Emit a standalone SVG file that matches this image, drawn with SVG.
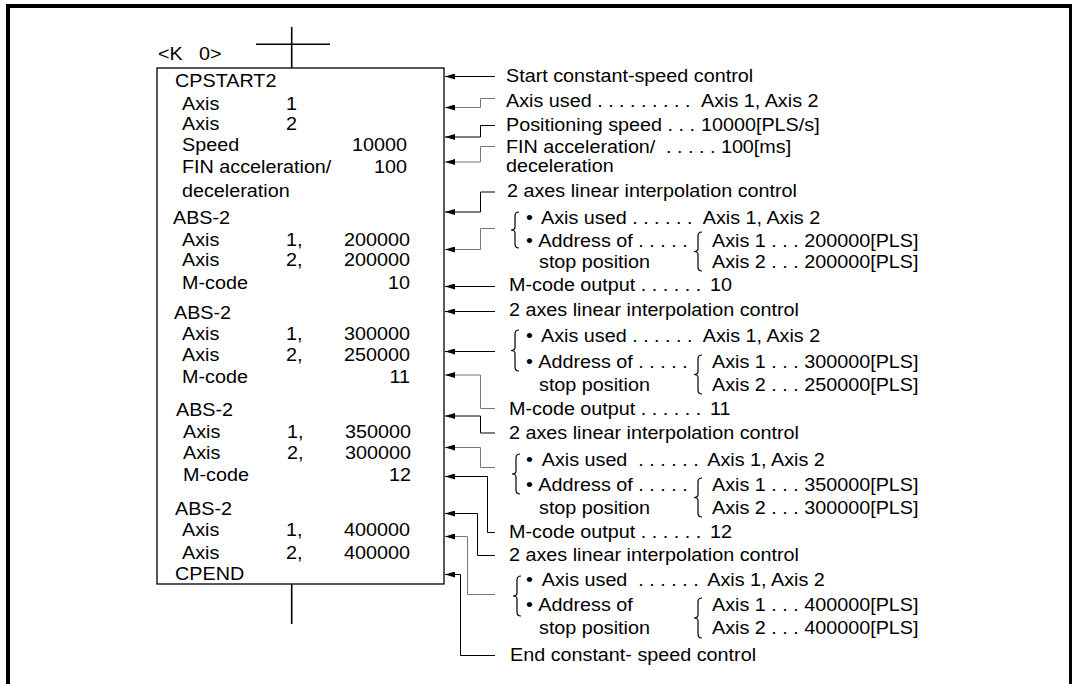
<svg xmlns="http://www.w3.org/2000/svg" width="1072" height="684" viewBox="0 0 1072 684">
<style>
text { font-family: "Liberation Sans", Arial, sans-serif; font-size: 17.5px; fill: #000; }
.e { text-anchor: end; }
.ln { fill: none; stroke: #000; stroke-width: 1; }
.gr { stroke: #777; }
.br { fill: none; stroke: #000; stroke-width: 1.2; }
.lad { fill: none; stroke: #000; stroke-width: 1.6; }
</style>
<defs>
<marker id="arr" markerUnits="userSpaceOnUse" markerWidth="10" markerHeight="6" viewBox="0 0 10 6" refX="10" refY="3" orient="auto">
<path d="M0,0 L10,3 L0,6 z" fill="#000"/>
</marker>
</defs>
<rect width="1072" height="684" fill="#fff"/>
<path d="M8,684 V6 H1071 V684" fill="none" stroke="#000" stroke-width="4"/>

<g id="ladder">
<path class="lad" d="M291.7,27 V68 M256,44.3 H330 M291.7,584 V624"/>
<text transform="translate(158 59.5) scale(1.13 1)">&lt;K</text>
<text transform="translate(199 59.5) scale(1.13 1)">0&gt;</text>
</g>

<g id="box">
<rect x="157" y="68" width="287" height="516" fill="#fff" stroke="#000" stroke-width="1.3"/>
<text transform="translate(175 87) scale(1.13 1)">CPSTART2</text>
<text transform="translate(182 109.5) scale(1.13 1)">Axis</text>
<text transform="translate(286 109.5) scale(1.13 1)">1</text>
<text transform="translate(182 130) scale(1.13 1)">Axis</text>
<text transform="translate(286 130) scale(1.13 1)">2</text>
<text transform="translate(182 150.5) scale(1.13 1)">Speed</text>
<text class="e" transform="translate(407 150.5) scale(1.13 1)">10000</text>
<text transform="translate(182 173) scale(1.13 1)">FIN acceleration/</text>
<text class="e" transform="translate(407 173) scale(1.13 1)">100</text>
<text transform="translate(182 196.5) scale(1.13 1)">deceleration</text>

<text transform="translate(173 224) scale(1.13 1)">ABS-2</text>
<text transform="translate(182 245.5) scale(1.13 1)">Axis</text>
<text transform="translate(286 245.5) scale(1.13 1)">1,</text>
<text class="e" transform="translate(410 245.5) scale(1.13 1)">200000</text>
<text transform="translate(182 266) scale(1.13 1)">Axis</text>
<text transform="translate(286 266) scale(1.13 1)">2,</text>
<text class="e" transform="translate(410 266) scale(1.13 1)">200000</text>
<text transform="translate(182 288.5) scale(1.13 1)">M-code</text>
<text class="e" transform="translate(410 288.5) scale(1.13 1)">10</text>

<text transform="translate(174 318.5) scale(1.13 1)">ABS-2</text>
<text transform="translate(182 340) scale(1.13 1)">Axis</text>
<text transform="translate(286 340) scale(1.13 1)">1,</text>
<text class="e" transform="translate(410 340) scale(1.13 1)">300000</text>
<text transform="translate(182 360.5) scale(1.13 1)">Axis</text>
<text transform="translate(286 360.5) scale(1.13 1)">2,</text>
<text class="e" transform="translate(410 360.5) scale(1.13 1)">250000</text>
<text transform="translate(182 383) scale(1.13 1)">M-code</text>
<text class="e" transform="translate(410 383) scale(1.13 1)">11</text>

<text transform="translate(176 416) scale(1.13 1)">ABS-2</text>
<text transform="translate(183 437.5) scale(1.13 1)">Axis</text>
<text transform="translate(287 437.5) scale(1.13 1)">1,</text>
<text class="e" transform="translate(411 437.5) scale(1.13 1)">350000</text>
<text transform="translate(183 458.5) scale(1.13 1)">Axis</text>
<text transform="translate(287 458.5) scale(1.13 1)">2,</text>
<text class="e" transform="translate(411 458.5) scale(1.13 1)">300000</text>
<text transform="translate(183 481) scale(1.13 1)">M-code</text>
<text class="e" transform="translate(411 481) scale(1.13 1)">12</text>

<text transform="translate(175 515) scale(1.13 1)">ABS-2</text>
<text transform="translate(182 536) scale(1.13 1)">Axis</text>
<text transform="translate(286 536) scale(1.13 1)">1,</text>
<text class="e" transform="translate(410 536) scale(1.13 1)">400000</text>
<text transform="translate(182 559) scale(1.13 1)">Axis</text>
<text transform="translate(286 559) scale(1.13 1)">2,</text>
<text class="e" transform="translate(410 559) scale(1.13 1)">400000</text>
<text transform="translate(175 580) scale(1.13 1)">CPEND</text>
</g>

<g id="connectors">
<path class="ln" marker-end="url(#arr)" d="M495,76.5 H445"/>
<path class="ln gr" marker-end="url(#arr)" d="M495,98.5 H480.5 V107.5 H445"/>
<path class="ln" marker-end="url(#arr)" d="M495,125.5 H480.5 V137 H445"/>
<path class="ln gr" marker-end="url(#arr)" d="M495,146.5 H480.5 V162 H445"/>
<path class="ln" marker-end="url(#arr)" d="M495,192 H480.5 V212 H445"/>
<path class="ln gr" marker-end="url(#arr)" d="M495,228.5 H480.5 V249.5 H445"/>
<path class="ln" marker-end="url(#arr)" d="M495,286.5 H445"/>
<path class="ln" marker-end="url(#arr)" d="M495,311.5 H445"/>
<path class="ln" marker-end="url(#arr)" d="M495,351.5 H445"/>
<path class="ln gr" marker-end="url(#arr)" d="M495,408.5 H480.5 V375 H445"/>
<path class="ln" marker-end="url(#arr)" d="M495,433 H480.5 V416 H445"/>
<path class="ln gr" marker-end="url(#arr)" d="M495,467.5 H480.5 V447.5 H445"/>
<path class="ln" marker-end="url(#arr)" d="M495,532.5 H487.5 V476.5 H445"/>
<path class="ln" marker-end="url(#arr)" d="M495,555.5 H477.5 V513.5 H445"/>
<path class="ln gr" marker-end="url(#arr)" d="M495,594.5 H467.5 V536.5 H445"/>
<path class="ln" marker-end="url(#arr)" d="M495,655.5 H460.5 V574.5 H445"/>
</g>

<g id="label-start">
<text transform="translate(506 81.5) scale(1.13 1)">Start constant-speed control</text>
</g>
<g id="label-axis-used">
<text transform="translate(506 106.5) scale(1.13 1)">Axis used . . . . . . . . .</text>
<text transform="translate(701 106.5) scale(1.13 1)">Axis 1, Axis 2</text>
</g>
<g id="label-speed">
<text transform="translate(506 131) scale(1.13 1)">Positioning speed . . .</text>
<text transform="translate(701 131) scale(1.13 1)">10000[PLS/s]</text>
</g>
<g id="label-fin">
<text transform="translate(506 153) scale(1.13 1)">FIN acceleration/</text>
<text transform="translate(666 153) scale(1.13 1)">. . . . . 100[ms]</text>
<text transform="translate(506 172) scale(1.13 1)">deceleration</text>
</g>

<g id="label-interp-1">
<text transform="translate(507 197) scale(1.13 1)">2 axes linear interpolation control</text>
</g>
<g id="label-group-1">
<path class="br" d="M519,212 Q515,212 515,216 V227 Q515,230 511,230 Q515,230 515,233 V244 Q515,248 519,248"/>
<text transform="translate(526 223.5) scale(1.13 1)">•</text>
<text transform="translate(541 223.5) scale(1.13 1)">Axis used . . . . . .</text>
<text transform="translate(702.7 223.5) scale(1.13 1)">Axis 1, Axis 2</text>
<text transform="translate(526 246.5) scale(1.13 1)">•</text>
<text transform="translate(538.3 246.5) scale(1.13 1)">Address of . . . . .</text>
<text transform="translate(539 268) scale(1.13 1)">stop position</text>
<path class="br" d="M702,232 Q698,232 698,236 V248.5 Q698,251.5 694,251.5 Q698,251.5 698,254.5 V267 Q698,271 702,271"/>
<text transform="translate(712 246.5) scale(1.13 1)">Axis 1 . . . 200000[PLS]</text>
<text transform="translate(712 268) scale(1.13 1)">Axis 2 . . . 200000[PLS]</text>
</g>
<g id="label-mcode-10">
<text transform="translate(509 291) scale(1.13 1)">M-code output . . . . . .</text>
<text transform="translate(710 291) scale(1.13 1)">10</text>
</g>

<g id="label-interp-2">
<text transform="translate(509 316) scale(1.13 1)">2 axes linear interpolation control</text>
</g>
<g id="label-group-2">
<path class="br" d="M519,330 Q515,330 515,334 V347.5 Q515,350.5 511,350.5 Q515,350.5 515,353.5 V367 Q515,371 519,371"/>
<text transform="translate(526 342) scale(1.13 1)">•</text>
<text transform="translate(541 342) scale(1.13 1)">Axis used . . . . . .</text>
<text transform="translate(702.7 342) scale(1.13 1)">Axis 1, Axis 2</text>
<text transform="translate(526 368) scale(1.13 1)">•</text>
<text transform="translate(538.3 368) scale(1.13 1)">Address of . . . . .</text>
<text transform="translate(539 391) scale(1.13 1)">stop position</text>
<path class="br" d="M702,355 Q698,355 698,359 V371.5 Q698,374.5 694,374.5 Q698,374.5 698,377.5 V390 Q698,394 702,394"/>
<text transform="translate(712 368) scale(1.13 1)">Axis 1 . . . 300000[PLS]</text>
<text transform="translate(712 391) scale(1.13 1)">Axis 2 . . . 250000[PLS]</text>
</g>
<g id="label-mcode-11">
<text transform="translate(509 415) scale(1.13 1)">M-code output . . . . . .</text>
<text transform="translate(710 415) scale(1.13 1)">11</text>
</g>

<g id="label-interp-3">
<text transform="translate(509 439) scale(1.13 1)">2 axes linear interpolation control</text>
</g>
<g id="label-group-3">
<path class="br" d="M520,454 Q516,454 516,458 V471 Q516,474 512,474 Q516,474 516,477 V490 Q516,494 520,494"/>
<text transform="translate(526 466) scale(1.13 1)">•</text>
<text transform="translate(541.7 466) scale(1.13 1)">Axis used&#160; . . . . . .</text>
<text transform="translate(707.3 466) scale(1.13 1)">Axis 1, Axis 2</text>
<text transform="translate(526 491) scale(1.13 1)">•</text>
<text transform="translate(538.3 491) scale(1.13 1)">Address of . . . . .</text>
<text transform="translate(539 514) scale(1.13 1)">stop position</text>
<path class="br" d="M702,478 Q698,478 698,482 V494.5 Q698,497.5 694,497.5 Q698,497.5 698,500.5 V513 Q698,517 702,517"/>
<text transform="translate(712 491) scale(1.13 1)">Axis 1 . . . 350000[PLS]</text>
<text transform="translate(712 514) scale(1.13 1)">Axis 2 . . . 300000[PLS]</text>
</g>
<g id="label-mcode-12">
<text transform="translate(509 538) scale(1.13 1)">M-code output . . . . . .</text>
<text transform="translate(710 538) scale(1.13 1)">12</text>
</g>

<g id="label-interp-4">
<text transform="translate(509 561) scale(1.13 1)">2 axes linear interpolation control</text>
</g>
<g id="label-group-4">
<path class="br" d="M521,576 Q517,576 517,580 V593 Q517,596 513,596 Q517,596 517,599 V612 Q517,616 521,616"/>
<text transform="translate(526 586) scale(1.13 1)">•</text>
<text transform="translate(541.7 586) scale(1.13 1)">Axis used&#160; . . . . . .</text>
<text transform="translate(707.3 586) scale(1.13 1)">Axis 1, Axis 2</text>
<text transform="translate(526 611) scale(1.13 1)">•</text>
<text transform="translate(538.3 611) scale(1.13 1)">Address of</text>
<text transform="translate(539 634) scale(1.13 1)">stop position</text>
<path class="br" d="M702,598 Q698,598 698,602 V615 Q698,618 694,618 Q698,618 698,621 V634 Q698,638 702,638"/>
<text transform="translate(712 611) scale(1.13 1)">Axis 1 . . . 400000[PLS]</text>
<text transform="translate(712 634) scale(1.13 1)">Axis 2 . . . 400000[PLS]</text>
</g>
<g id="label-end">
<text transform="translate(510 661) scale(1.13 1)">End constant- speed control</text>
</g>
</svg>
